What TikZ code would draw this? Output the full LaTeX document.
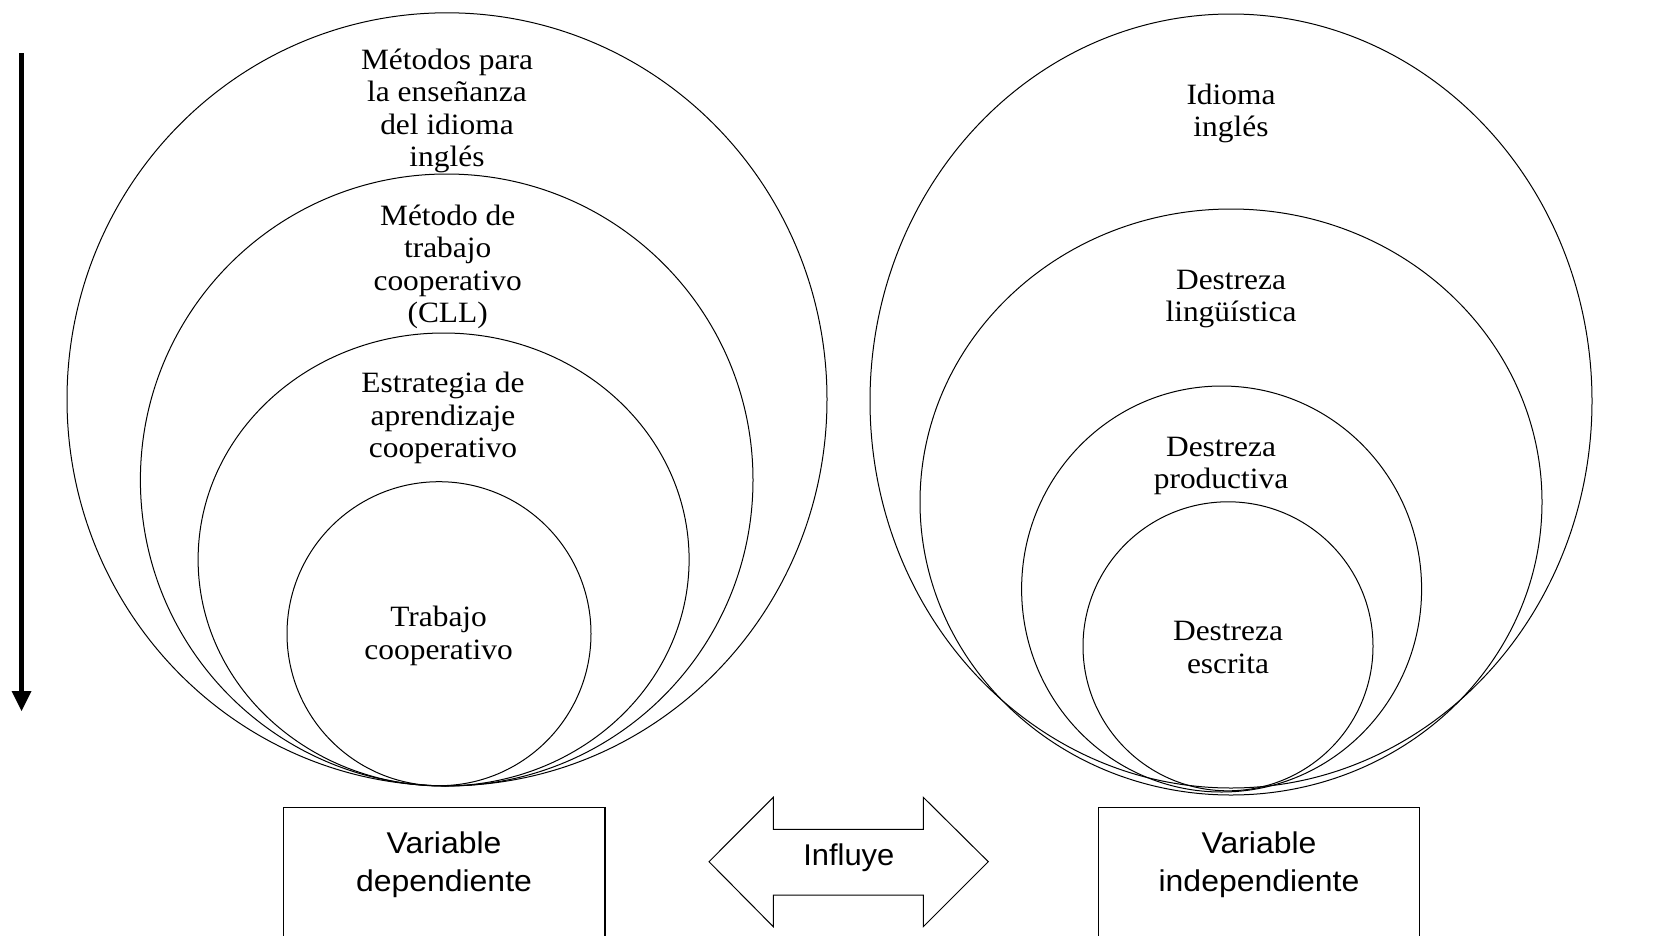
\documentclass[tikz,border=0pt]{standalone}
\usepackage{fontspec}
\usepackage{graphicx}
\setmainfont{Liberation Serif}
\newfontfamily\arialf{Liberation Sans}
\usetikzlibrary{shapes.geometric}
\newcommand\mlt[1]{\scalebox{1.065}[1]{\begin{tabular}[t]{@{}c@{}}#1\end{tabular}}}
\tikzset{
  ring/.style={draw, line width=1pt, ellipse, inner sep=0pt, outer sep=0pt},
  sertext/.style={anchor=base, inner sep=0pt, font=\fontsize{29.5}{32.6}\selectfont},
  santext/.style={anchor=base, inner sep=0pt, font=\arialf\fontsize{30}{38.3}\selectfont},
  varbox/.style={draw, line width=1.2pt, anchor=north west, minimum width=321.6pt, minimum height=160pt, inner sep=0pt}
}
\begin{document}
\begin{tikzpicture}[x=1pt,y=-1pt]
\useasboundingbox[fill=white] (0,0) rectangle (1665,935);
% left group
\node[ring, minimum width=760pt, minimum height=773pt] (L1) at (447,399.3) {};
\node[ring, minimum width=612.6pt, minimum height=612pt] (L2) at (446.7,480) {};
\node[ring, minimum width=491pt, minimum height=453pt] (L3) at (443.6,559.5) {};
\node[ring, minimum width=304pt, minimum height=304pt] (L4) at (439,633.7) {};
\node[sertext] (tL1) at (447,69) {\mlt{Métodos para\\la enseñanza\\del idioma\\inglés}};
\node[sertext] (tL2) at (447.7,225) {\mlt{Método de\\trabajo\\cooperativo\\(CLL)}};
\node[sertext] (tL3) at (443,392.7) {\mlt{Estrategia de\\aprendizaje\\cooperativo}};
\node[sertext] (tL4) at (438.6,626.7) {\mlt{Trabajo\\cooperativo}};
% right group
\node[ring, minimum width=722pt, minimum height=774pt] (R1) at (1231,401) {};
\node[ring, minimum width=622pt, minimum height=586pt] (R2) at (1231,502) {};
\node[ring, minimum width=400pt, minimum height=406pt] (R3) at (1221.6,589) {};
\node[ring, minimum width=290pt, minimum height=289pt] (R4) at (1228,646.3) {};
\node[sertext] (tR1) at (1231,104) {\mlt{Idioma\\inglés}};
\node[sertext] (tR2) at (1231,289.3) {\mlt{Destreza\\lingüística}};
\node[sertext] (tR3) at (1221,456) {\mlt{Destreza\\productiva}};
\node[sertext] (tR4) at (1228,640.7) {\mlt{Destreza\\escrita}};
% vertical arrow
\coordinate (atop) at (21.6,53);
\coordinate (abase) at (21.6,691);
\coordinate (atip) at (21.6,711);
\draw[line width=5pt] (atop) -- ([yshift=-2pt]abase);
\fill ([xshift=-10pt]abase) -- ([xshift=10pt]abase) -- (atip) -- cycle;
% boxes
\node[varbox] (BL) at (282.7,806.7) {};
\node[varbox] (BR) at (1097.6,806.7) {};
\node[santext] (tBL) at (444,853) {\mlt{Variable\\dependiente}};
\node[santext] (tBR) at (1259,853) {\mlt{Variable\\independiente}};
% double arrow
\draw[line width=1pt, line join=miter] (709,861.7) -- (773.3,797.3) -- (773.3,829.3) -- (923.3,829.3) -- (923.3,797.3) -- (988.3,861.7) -- (923.3,926.7) -- (923.3,895) -- (773.3,895) -- (773.3,926.7) -- cycle;
\node[santext] (tInf) at (848.8,865) {\scalebox{1.03}[1]{Influye}};
\end{tikzpicture}
\end{document}
